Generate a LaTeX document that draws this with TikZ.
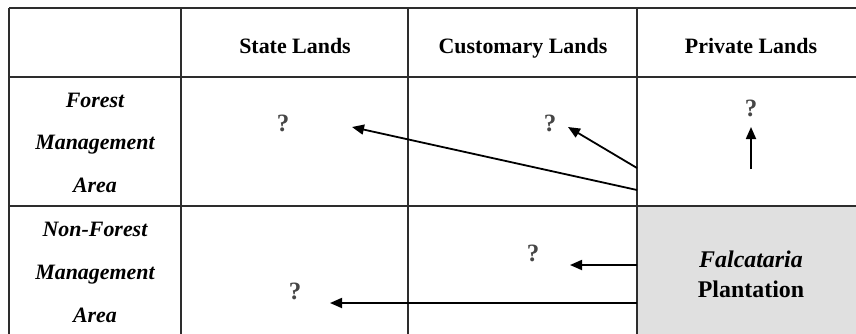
\documentclass[tikz,border=0pt]{standalone}
\usepackage{fontspec}
\setmainfont{Liberation Serif}
\usetikzlibrary{arrows.meta}
\definecolor{plantfill}{RGB}{224,224,224}
\definecolor{gridc}{RGB}{45,45,45}
\definecolor{qc}{RGB}{70,70,70}
\begin{document}
\begin{tikzpicture}[x=1bp,y=-1bp,
  gridline/.style={draw=gridc, line width=1.6bp},
  hdr/.style={font=\fontsize{22}{26}\selectfont\bfseries, anchor=base, inner sep=0pt},
  rowlbl/.style={font=\fontsize{22}{26}\selectfont\bfseries\itshape, anchor=base, inner sep=0pt},
  plantlbl/.style={font=\fontsize{24}{28}\selectfont\bfseries, anchor=base, inner sep=0pt},
  qmark/.style={font=\fontsize{25}{28}\selectfont\bfseries, text=qc, inner sep=0pt},
  arr/.style={draw=black, line width=1.8bp, -{Triangle[length=12bp,width=10bp]}},
]
\useasboundingbox (0,0) rectangle (856,333);
\begin{scope}
  \clip (0,0) rectangle (856,333);
  % plantation cell
  \fill[plantfill] (637,206) rectangle (880,345);
  % grid
  \draw[gridline] (9,8) -- (880,8);
  \draw[gridline] (9,77) -- (880,77);
  \draw[gridline] (9,206) -- (880,206);
  \draw[gridline] (9,8) -- (9,345);
  \draw[gridline] (181,8) -- (181,345);
  \draw[gridline] (408,8) -- (408,345);
  \draw[gridline] (637,8) -- (637,345);
\end{scope}

% headers
\node[hdr] (hstate) at (295,53) {State Lands};
\node[hdr] (hcust) at (523,53) {Customary Lands};
\node[hdr] (hpriv) at (751,53) {Private Lands};

% row labels
\node[rowlbl] (fma1) at (95,107) {Forest};
\node[rowlbl] (fma2) at (95,149) {Management};
\node[rowlbl] (fma3) at (95,192) {Area};
\node[rowlbl] (nfma1) at (95,236) {Non-Forest};
\node[rowlbl] (nfma2) at (95,279) {Management};
\node[rowlbl] (nfma3) at (95,322) {Area};

% plantation
\node[plantlbl, font=\fontsize{24}{28}\selectfont\bfseries\itshape] (plant1) at (751,267) {Falcataria};
\node[plantlbl] (plant2) at (751,297) {Plantation};

% question marks
\node[qmark] (qsf) at (283,123) {?};
\node[qmark] (qcf) at (550,123) {?};
\node[qmark] (qpf) at (751,108) {?};
\node[qmark] (qcn) at (533,253) {?};
\node[qmark] (qsn) at (295,291) {?};

% arrow ends
\coordinate (s1) at (637,190);
\coordinate (t1) at (352,127);
\coordinate (s2) at (637,168);
\coordinate (t2) at (568,127);
\coordinate (s3) at (751,169);
\coordinate (t3) at (751,127);
\coordinate (s4) at (637,265);
\coordinate (t4) at (570,265);
\coordinate (s5) at (637,303);
\coordinate (t5) at (330,303);

\draw[arr] (s1) -- (t1);
\draw[arr] (s2) -- (t2);
\draw[arr] (s3) -- (t3);
\draw[arr] (s4) -- (t4);
\draw[arr] (s5) -- (t5);
\end{tikzpicture}
\end{document}
